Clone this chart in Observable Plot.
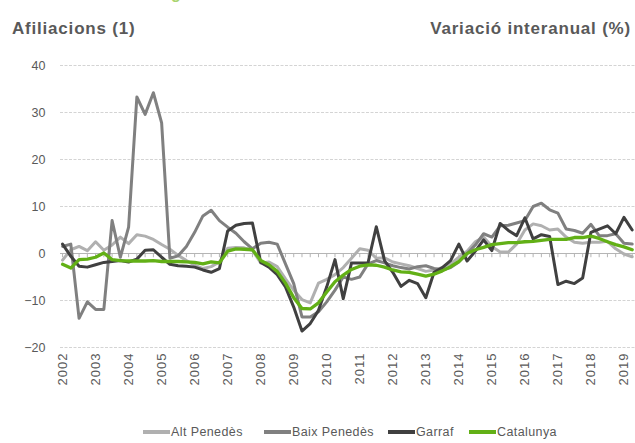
<!DOCTYPE html>
<html><head><meta charset="utf-8">
<script src="https://cdn.jsdelivr.net/npm/d3@7"></script>
<script src="https://cdn.jsdelivr.net/npm/@observablehq/plot@0.6"></script>
<style>
body{margin:0;background:#fff;font-family:"Liberation Sans",Arial,sans-serif;}
#wrap{position:relative;width:635px;height:443px;overflow:hidden;background:#fff}
.t{position:absolute;font-weight:bold;font-size:17px;color:#595959;line-height:17px;letter-spacing:0.8px;white-space:nowrap}
#chart{position:absolute;left:0;top:45px}
#chart g[aria-label="x-axis tick label"] text{letter-spacing:1px}
.item{position:absolute;top:425px;height:14px;display:flex;align-items:center;white-space:nowrap;font-size:12.5px;color:#595959;letter-spacing:0.4px}
.sw{display:inline-block;width:27px;height:4px;margin-right:1px}
</style></head>
<body>
<div id="wrap">
  <div class="t" style="left:40px;top:-16px;color:#a9d46f;font-size:16px;line-height:20px">Afiliació a la Seguretat Social</div>
  <div class="t" style="left:12px;top:20px">Afiliacions (1)</div>
  <div class="t" style="right:4px;top:20px">Variació interanual (%)</div>
  <div id="chart"></div>
</div>
<script>
const years = [2002,2003,2004,2005,2006,2007,2008,2009,2010,2011,2012,2013,2014,2015,2016,2017,2018,2019];
const quarterNames = ["I","II","III","IV"];
const seriesNames = ["Alt Penedès","Baix Penedès","Garraf","Catalunya"];
const seriesColors = ["#b0b0b0","#808080","#404040","#62b016"];
const yTicks = [-20,-10,0,10,20,30,40];

const altPenedes = [-1.4,0.8,1.5,0.6,2.5,0.7,1.8,3.5,2.1,4.0,3.7,3.0,1.9,0.9,-0.4,-1.5,-2.5,-3.2,-2.8,-1.8,1.1,1.3,1.2,0.7,-2.0,-1.8,-2.8,-5.4,-7.8,-9.8,-10.5,-6.3,-5.5,-4.5,-3.0,-1.0,1.0,0.7,-1.0,-0.9,-1.8,-2.2,-2.6,-3.2,-3.8,-3.5,-3.0,-2.2,-0.8,0.5,2.5,3.5,1.5,0.3,0.3,2.0,5.0,6.3,5.9,5.0,5.2,3.5,2.4,2.2,2.4,2.4,2.6,1.0,-0.1,-0.7];
const baixPenedes = [1.5,2.0,-13.8,-10.3,-11.9,-11.9,7.0,-0.8,5.6,33.3,29.6,34.2,27.8,-1.0,-0.5,1.5,4.5,8.0,9.2,7.0,5.6,4.3,2.5,1.0,2.2,2.4,2.0,-2.2,-6.4,-13.5,-13.5,-12.4,-10.3,-7.8,-5.0,-5.5,-5.0,-2.2,-1.5,-2.0,-2.6,-3.0,-3.3,-2.8,-2.6,-3.2,-3.5,-3.0,-1.8,0.0,1.8,4.2,3.5,5.9,6.0,6.5,7.0,10.0,10.7,9.3,8.6,5.2,4.9,4.3,6.2,3.8,3.8,4.2,2.2,2.0];
const garraf = [2.0,-0.6,-2.7,-2.9,-2.4,-1.9,-1.7,-1.5,-1.8,-1.2,0.7,0.8,-0.8,-2.3,-2.6,-2.7,-2.9,-3.5,-4.0,-3.2,4.8,6.0,6.4,6.5,-1.9,-2.9,-4.5,-7.1,-11.4,-16.5,-14.9,-12.1,-7.1,-1.3,-9.6,-2.0,-2.0,-2.0,5.7,-1.5,-4.0,-7.0,-5.7,-6.4,-9.4,-4.0,-3.0,-1.5,2.0,-1.6,0.5,2.9,0.6,6.4,4.9,3.8,7.6,3.1,4.0,3.6,-6.6,-5.9,-6.4,-5.2,4.5,5.2,5.9,4.2,7.7,5.0];
const catalunya = [-2.3,-3.1,-1.3,-1.2,-0.8,0.1,-1.3,-1.5,-1.6,-1.6,-1.6,-1.5,-1.7,-1.7,-1.7,-1.8,-1.9,-2.2,-1.8,-2.0,0.5,1.0,0.9,0.8,-1.5,-2.4,-3.8,-6.3,-9.4,-11.7,-11.8,-10.5,-8.2,-6.0,-4.6,-3.4,-2.7,-2.4,-2.5,-2.9,-3.5,-3.9,-4.0,-4.4,-4.8,-4.4,-3.7,-2.8,-1.7,0.0,0.8,1.3,1.9,2.1,2.3,2.3,2.5,2.6,2.8,3.0,3.0,3.0,3.4,3.4,3.7,3.2,2.5,1.9,1.4,0.8];

const allSeries = [altPenedes, baixPenedes, garraf, catalunya];
const periods = years.flatMap(y => quarterNames.map(q => `${y} ${q}`)).slice(0, catalunya.length);
const idx = periods.map((p, i) => i);
const yearIdx = idx.filter(i => i % 4 === 0);

const rows = seriesNames.flatMap((s, k) => allSeries[k].map((v, i) => ({serie: s, i, value: v})));

const chart = Plot.plot({
  width: 635, height: 350,
  marginTop: 20, marginLeft: 60, marginRight: 0, marginBottom: 48,
  style: {fontFamily: "'Liberation Sans', Arial, sans-serif", fontSize: "12.5px", color: "#595959", background: "transparent"},
  x: {domain: [-0.25, periods.length - 0.6], axis: null},
  y: {domain: [yTicks[0], yTicks[yTicks.length-1]], axis: null},
  color: {domain: seriesNames, range: seriesColors},
  marks: [
    Plot.ruleY(yTicks.filter(d => d !== 0), {stroke: "#d4d4d4", strokeWidth: 1, strokeDasharray: "3,1.5"}),
    Plot.axisY(yTicks, {anchor: "left", label: null, tickSize: 0, tickPadding: 15, fill: "#595959", fontSize: 12.5}),
    Plot.ruleY([0], {stroke: "#b5b5b5", strokeWidth: 1.2}),
    Plot.ruleX(idx, {x: d => d, y1: 0, y2: -0.9, stroke: "#b5b5b5", strokeWidth: 1}),
    Plot.axisX(yearIdx, {anchor: "bottom", label: null, tickSize: 0, tickPadding: 5, tickRotate: -90, tickFormat: i => String(years[i / 4]), fill: "#595959", fontSize: 13}),
    ...seriesNames.map((s, k) => Plot.line(rows.filter(r => r.serie === s), {
      x: "i", y: "value", stroke: "serie", strokeWidth: k === 3 ? 3.3 : 3, strokeLinejoin: "round"
    }))
  ]
});
document.getElementById("chart").appendChild(chart);

const legendX = [143, 264, 388, 469];
const wrap = document.getElementById("wrap");
seriesNames.forEach((s, k) => {
  const d = document.createElement("div");
  d.className = "item";
  d.style.left = legendX[k] + "px";
  d.innerHTML = `<span class="sw" style="background:${seriesColors[k]}"></span><span>${s}</span>`;
  wrap.appendChild(d);
});
</script>
</body></html>
